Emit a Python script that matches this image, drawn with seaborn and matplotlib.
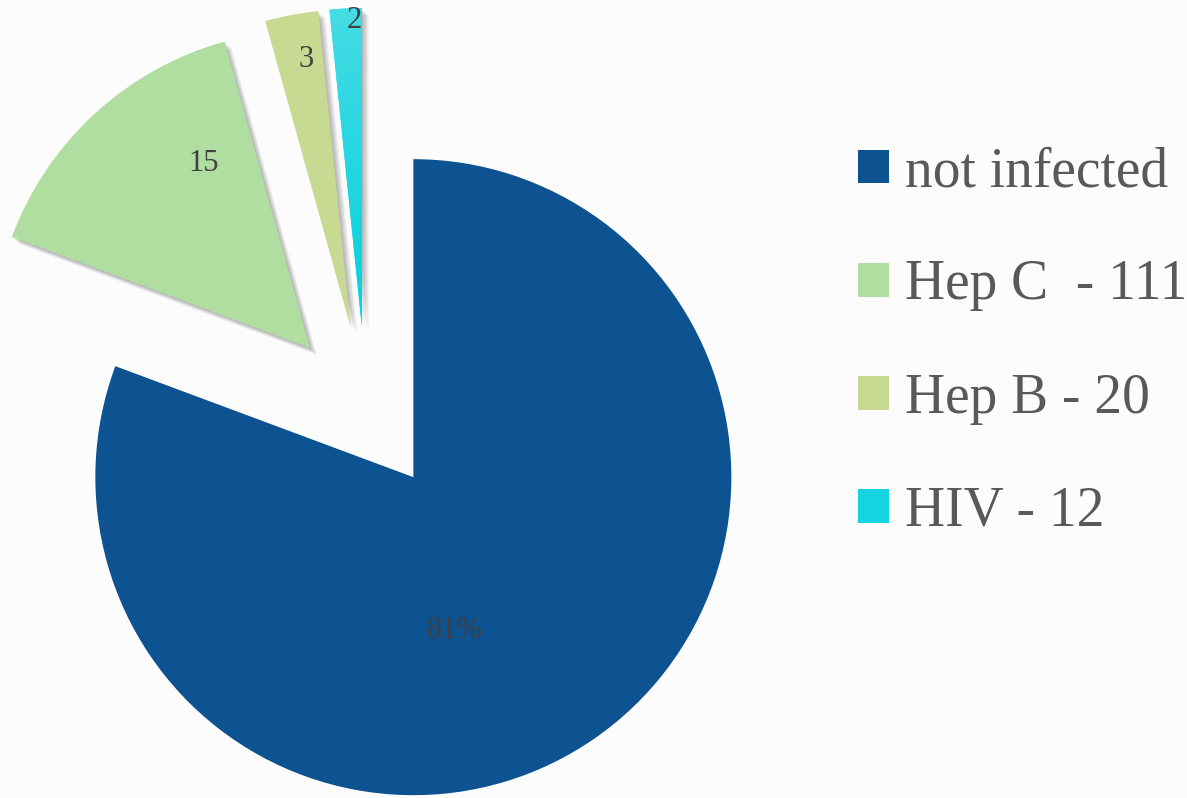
import matplotlib
matplotlib.use("Agg")
import matplotlib.pyplot as plt
import matplotlib.patheffects as pe
from matplotlib.colors import LinearSegmentedColormap
from matplotlib.patches import Patch
import numpy as np
import seaborn as sns

# Screening results
categories = ["not infected", "Hep C", "Hep B", "HIV"]
counts = [597, 111, 20, 12]
legend_labels = ["not infected", "Hep C  - 111", "Hep B - 20", "HIV - 12"]
slice_labels = ["81%", "15", "3", "2"]
slice_colors = ["#0D5291", "#B0DEA0", "#C8DA92", "#14D4DF"]

sns.set_theme(style="white")
plt.rcParams["font.family"] = ["Liberation Serif", "DejaVu Serif"]
palette = sns.color_palette(slice_colors)

W, H = 1187, 798
fig = plt.figure(figsize=(W / 100, H / 100), dpi=100, facecolor="#fcfcfc")
ax = fig.add_axes([0, 0, 1, 1])
ax.set_facecolor("#fcfcfc")

radius = 318
center = (366, H - 409)
explode = [83, 83, 83, 83]

wedges, _ = ax.pie(
    counts,
    colors=palette,
    startangle=90,
    counterclock=False,
    radius=radius,
    center=center,
    explode=explode,
    wedgeprops=dict(linewidth=0),
)

# soft drop shadow on the small slices
shadow = [pe.SimplePatchShadow(offset=(o, -o), shadow_rgbFace="black", alpha=0.06)
          for o in (1, 2, 3, 4, 5)]
for w in wedges[1:]:
    w.set_path_effects(shadow + [pe.Normal()])

# vertical gradient on the HIV slice
hiv = wedges[3]
ext = hiv.get_path().get_extents()
grad = np.linspace(0, 1, 256).reshape(-1, 1)
cmap = LinearSegmentedColormap.from_list("hiv", ["#46DCE4", "#00D2DE"])
img = ax.imshow(grad, cmap=cmap, aspect="auto", origin="upper",
                extent=(ext.x0, ext.x1, ext.y0, ext.y1), zorder=hiv.get_zorder() + 0.1)
img.set_clip_path(hiv)

# value labels placed relative to each slice's own vertex
label_angle = [-75, 120, 99.5, 91.5]
label_dist = [0.5, 0.67, 0.855, 0.96]
for w, txt, a, d in zip(wedges, slice_labels, label_angle, label_dist):
    cx, cy = w.center
    t = np.deg2rad(a)
    ax.text(cx + d * radius * np.cos(t), cy + d * radius * np.sin(t), txt,
            ha="center", va="center", fontsize=22, color="#404040", zorder=5)

ax.set_xlim(0, W)
ax.set_ylim(0, H)
ax.set_aspect("equal")
ax.axis("off")

handles = [Patch(facecolor=c, edgecolor="none") for c in palette]
fig.legend(handles, legend_labels, loc="center left",
           bbox_to_anchor=(858 / W, 1 - 342 / H), frameon=False,
           fontsize=40, handlelength=0.55, handleheight=0.55,
           handletextpad=0.3, labelspacing=1.1, labelcolor="#595959",
           borderpad=0, borderaxespad=0)

fig.savefig("out.png", dpi=100, facecolor=fig.get_facecolor())
